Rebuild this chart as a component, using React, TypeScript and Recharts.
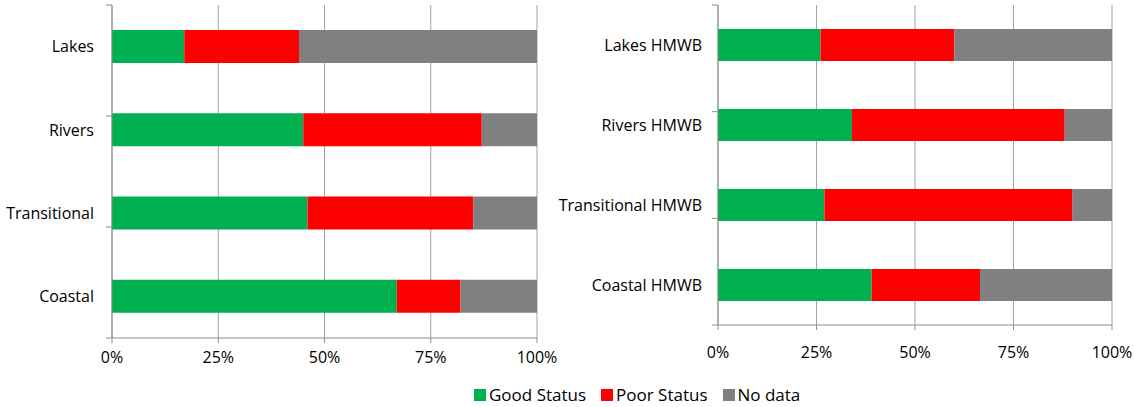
import { BarChart, Bar, XAxis, YAxis, CartesianGrid } from 'recharts'

const leftCategories = ['Lakes', 'Rivers', 'Transitional', 'Coastal']
const leftGood = [17, 45, 46, 67]
const leftPoor = [27, 42, 39, 15]
const leftNoData = [56, 13, 15, 18]

const rightCategories = ['Lakes HMWB', 'Rivers HMWB', 'Transitional HMWB', 'Coastal HMWB']
const rightGood = [26, 34, 27, 39]
const rightPoor = [34, 54, 63, 27.5]
const rightNoData = [40, 12, 10, 33.5]

const seriesKeys = ['good', 'poor', 'noData']
const seriesNames = ['Good Status', 'Poor Status', 'No data']
const seriesColors = ['#00B050', '#FF0000', '#808080']

const percentTicks = [0, 25, 50, 75, 100]
const edgeTicks = [0, 1, 2, 3, 4]

const FONT = '"Open Sans", sans-serif'
const AXIS = '#8c8c8c'
const GRID = '#a3a3a3'

function buildRows(cats: string[], good: number[], poor: number[], noData: number[]) {
  return cats.map((name, i) => ({ name, good: good[i], poor: poor[i], noData: noData[i] }))
}

interface PanelProps {
  rows: { name: string; good: number; poor: number; noData: number }[]
  width: number
  height: number
  marginBottom: number
  labelWidth: number
  labelMargin: number
  barSize: number
  xTickMargin: number
}

function Panel({ rows, width, height, marginBottom, labelWidth, labelMargin, barSize, xTickMargin }: PanelProps) {
  return (
    <BarChart
      width={width}
      height={height}
      data={rows}
      layout="vertical"
      margin={{ top: 5, right: 22, bottom: marginBottom, left: 0 }}
    >
      <CartesianGrid horizontal={false} stroke={GRID} yAxisId="cat" />
      <XAxis
        type="number"
        domain={[0, 100]}
        ticks={percentTicks}
        tickFormatter={(v: number) => `${v}%`}
        height={30}
        tickSize={5}
        tickMargin={xTickMargin}
        axisLine={{ stroke: AXIS }}
        tickLine={{ stroke: AXIS }}
        tick={{ fill: '#000', fontSize: 16, fontFamily: FONT }}
        interval={0}
      />
      {/* axis line with tick marks on the category boundaries */}
      <YAxis
        yAxisId="a_edge"
        type="number"
        domain={[0, 4]}
        ticks={edgeTicks}
        width={6}
        tickSize={6}
        tickFormatter={() => ''}
        axisLine={{ stroke: AXIS }}
        tickLine={{ stroke: AXIS }}
        interval={0}
      />
      <YAxis
        yAxisId="cat"
        type="category"
        dataKey="name"
        width={labelWidth}
        axisLine={false}
        tickLine={false}
        tickSize={6}
        tickMargin={labelMargin}
        tick={{ fill: '#000', fontSize: 16, fontFamily: FONT }}
        interval={0}
      />
      {seriesKeys.map((k, i) => (
        <Bar
          key={k}
          yAxisId="cat"
          dataKey={k}
          name={seriesNames[i]}
          stackId="s"
          fill={seriesColors[i]}
          barSize={barSize}
          isAnimationActive={false}
        />
      ))}
    </BarChart>
  )
}

export default function App() {
  const leftRows = buildRows(leftCategories, leftGood, leftPoor, leftNoData)
  const rightRows = buildRows(rightCategories, rightGood, rightPoor, rightNoData)

  return (
    <div
      style={{
        position: 'fixed',
        left: 0,
        top: 0,
        width: 1134,
        height: 407,
        background: '#fff',
        fontFamily: FONT,
      }}
    >
      <style>{'.recharts-surface { overflow: visible; }'}</style>
      <div style={{ position: 'absolute', left: 0, top: 0 }}>
        <Panel
          rows={leftRows}
          width={559}
          height={380}
          marginBottom={12}
          labelWidth={106}
          labelMargin={6}
          barSize={33}
          xTickMargin={9}
        />
      </div>
      <div style={{ position: 'absolute', left: 560, top: 0 }}>
        <Panel
          rows={rightRows}
          width={574}
          height={370}
          marginBottom={15}
          labelWidth={152}
          labelMargin={4}
          barSize={32}
          xTickMargin={17}
        />
      </div>
      <div
        style={{
          position: 'absolute',
          left: 474,
          top: 385,
          display: 'flex',
          alignItems: 'center',
          fontSize: 17,
          lineHeight: '20px',
          color: '#000',
        }}
      >
        {seriesNames.map((n, i) => (
          <div key={n} style={{ display: 'flex', alignItems: 'center', marginRight: 15 }}>
            <span
              style={{
                display: 'inline-block',
                width: 12,
                height: 12,
                background: seriesColors[i],
                marginRight: 3,
              }}
            />
            <span>{n}</span>
          </div>
        ))}
      </div>
    </div>
  )
}
